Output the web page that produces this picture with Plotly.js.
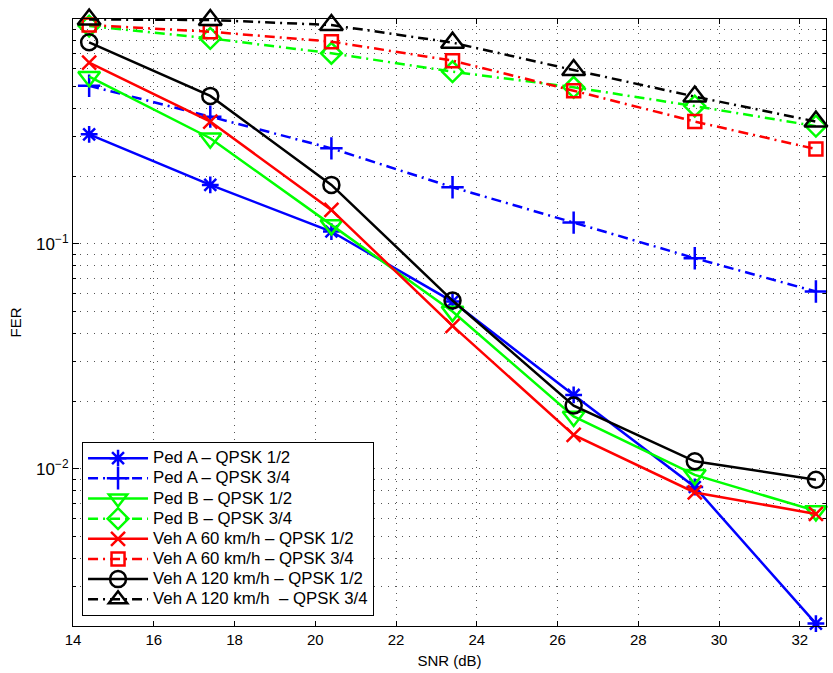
<!DOCTYPE html>
<html>
<head>
<meta charset="utf-8">
<script src="https://cdn.plot.ly/plotly-3.0.1.min.js"></script>
<style>html,body{margin:0;padding:0;background:#fff;}#chart{width:833px;height:673px;}</style>
</head>
<body>
<div id="chart"></div>
<script>
const snr = [14.4, 17.4, 20.4, 23.4, 26.4, 29.4, 32.4];

const pedA_12  = [0.307, 0.183, 0.1135, 0.0554, 0.0213, 0.0083, 0.00205];
const pedA_34  = [0.505, 0.368, 0.266, 0.1786, 0.1244, 0.0864, 0.0614];
const pedB_12  = [0.554, 0.295, 0.1215, 0.050, 0.0171, 0.0094, 0.0065];
const pedB_34  = [0.93, 0.82, 0.704, 0.583, 0.497, 0.41, 0.334];
const vehA60_12  = [0.64, 0.35, 0.1416, 0.0432, 0.01416, 0.00785, 0.0063];
const vehA60_34  = [0.94, 0.878, 0.793, 0.653, 0.48, 0.35, 0.264];
const vehA120_12 = [0.788, 0.455, 0.183, 0.056, 0.0191, 0.0108, 0.00894];
const vehA120_34 = [0.995, 0.99, 0.94, 0.785, 0.593, 0.452, 0.35];

const names = [
  'Ped A \u2013 QPSK 1/2', 'Ped A \u2013 QPSK 3/4',
  'Ped B \u2013 QPSK 1/2', 'Ped B \u2013 QPSK 3/4',
  'Veh A 60 km/h \u2013 QPSK 1/2', 'Veh A 60 km/h \u2013 QPSK 3/4',
  'Veh A 120 km/h \u2013 QPSK 1/2', 'Veh A 120 km/h \u00a0\u2013 QPSK 3/4'
];
const series = [pedA_12, pedA_34, pedB_12, pedB_34, vehA60_12, vehA60_34, vehA120_12, vehA120_34];
const colors = ['#0000ff','#0000ff','#00ff00','#00ff00','#ff0000','#ff0000','#000000','#000000'];
const symbols = ['asterisk-open','cross-thin-open','triangle-down-open','diamond-open','x-thin-open','square-open','circle-open','triangle-up-open'];
const sizes = [14, 16, 19, 16, 14, 13, 16, 20];
const DASHDOT = '10px,5px,2px,5px';
const dashes = ['solid', DASHDOT, 'solid', DASHDOT, 'solid', DASHDOT, 'solid', DASHDOT];

const traces = series.map((ys, i) => ({
  x: snr, y: ys, name: '<span style="font-size:16.8px">' + names[i] + '</span>',
  type: 'scatter', mode: 'lines+markers',
  cliponaxis: false,
  line: {color: colors[i], width: 2.5, dash: dashes[i]},
  marker: {symbol: symbols[i], size: sizes[i], color: colors[i], line: {color: colors[i], width: 2.5}}
}));

const ytv = [], ytt = [], yminor = [];
for (let e = -3; e <= -1; e++) {
  ytv.push(Math.pow(10, e));
  ytt.push('10<sup>\u2212' + (-e) + '</sup>');
  for (let m = 2; m <= 9; m++) yminor.push(m * Math.pow(10, e));
}

const GRID = '#555';
const GDASH = '1px,6px';

const layout = {
  width: 833, height: 673,
  margin: {l: 73, r: 7, t: 19, b: 47},
  paper_bgcolor: '#fff', plot_bgcolor: '#fff',
  font: {family: 'Liberation Sans, Arial, sans-serif', size: 15, color: '#000'},
  showlegend: true,
  legend: {
    x: 0.012, y: 0.303, xanchor: 'left', yanchor: 'top',
    bgcolor: '#fff', bordercolor: '#000', borderwidth: 1,
    font: {size: 13.2, color: '#000'}, tracegroupgap: 0, itemwidth: 60
  },
  xaxis: {
    range: [14, 32.65], tickmode: 'array', tickvals: [14,16,18,20,22,24,26,28,30,32],
    ticks: 'inside', ticklen: 5, tickcolor: '#000', showline: true, linecolor: '#000', linewidth: 1, mirror: 'ticks',
    showgrid: true, gridcolor: GRID, griddash: GDASH, gridwidth: 1, zeroline: false,
    tickfont: {size: 15},
    title: {text: 'SNR (dB)', standoff: 8, font: {size: 15}}
  },
  yaxis: {
    type: 'log', range: [Math.log10(0.002), 0],
    tickmode: 'array', tickvals: ytv, ticktext: ytt,
    ticks: 'inside', ticklen: 6, tickcolor: '#000', showline: true, linecolor: '#000', linewidth: 1, mirror: 'ticks',
    showgrid: true, gridcolor: GRID, griddash: GDASH, gridwidth: 1, zeroline: false,
    tickfont: {size: 17},
    minor: {tickmode: 'array', tickvals: yminor, ticks: 'inside', ticklen: 3, tickcolor: '#000', showgrid: true, gridcolor: GRID, griddash: GDASH, gridwidth: 1},
    title: {text: 'FER', standoff: 10, font: {size: 15}}
  }
};

Plotly.newPlot('chart', traces, layout, {displayModeBar: false, staticPlot: true});
</script>
</body>
</html>
